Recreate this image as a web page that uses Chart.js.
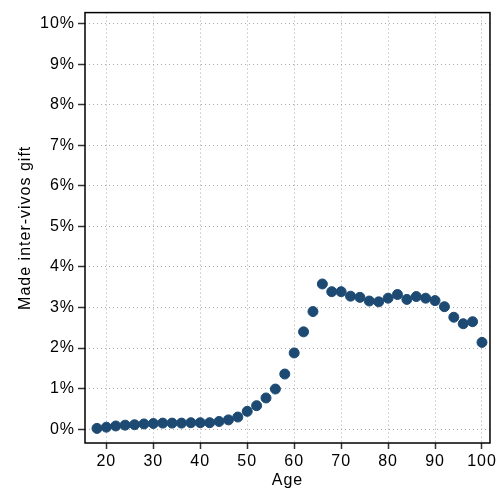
<!DOCTYPE html>
<html>
<head>
<meta charset="utf-8">
<script src="https://cdn.jsdelivr.net/npm/chart.js@4/dist/chart.umd.min.js"></script>
<style>
  html, body { margin: 0; padding: 0; background: #fff; }
  #wrap { width: 500px; height: 493px; }
</style>
</head>
<body>
<div id="wrap"><canvas id="giftChart" width="500" height="493"></canvas></div>
<script>
// ages (every two years)
const ages = [18, 20, 22, 24, 26, 28, 30, 32, 34, 36, 38, 40, 42, 44, 46, 48, 50, 52, 54, 56, 58, 60,
              62, 64, 66, 68, 70, 72, 74, 76, 78, 80, 82, 84, 86, 88, 90, 92, 94, 96, 98, 100];
// share making an inter-vivos gift (%)
const giftShare = [0.02, 0.05, 0.08, 0.10, 0.11, 0.13, 0.14, 0.15, 0.15, 0.15, 0.16, 0.16, 0.16, 0.19, 0.23, 0.30,
                   0.44, 0.58, 0.77, 0.99, 1.36, 1.88, 2.40, 2.90, 3.58, 3.39, 3.39, 3.28, 3.25, 3.16, 3.14, 3.23,
                   3.32, 3.20, 3.27, 3.23, 3.17, 3.02, 2.76, 2.60, 2.65, 2.14];
const xTicks = [20, 30, 40, 50, 60, 70, 80, 90, 100];
const yTicks = [0, 1, 2, 3, 4, 5, 6, 7, 8, 9, 10];

const points = ages.map((a, i) => ({ x: a, y: giftShare[i] }));

// the reference text is a bit spread out
const spacing = {
    id: 'spacing',
    beforeLayout(chart) { chart.ctx.letterSpacing = '1px'; },
    beforeDraw(chart) { chart.ctx.letterSpacing = '1px'; }
};

// draw the black frame round the plot area
const frame = {
    id: 'frame',
    afterDraw(chart) {
        const a = chart.chartArea;
        const c = chart.ctx;
        c.save();
        c.strokeStyle = '#000';
        c.lineWidth = 1.5;
        c.strokeRect(a.left, a.top, a.right - a.left, a.bottom - a.top);
        c.restore();
    }
};

const font = { family: 'Liberation Sans', size: 16 };

new Chart(document.getElementById('giftChart'), {
    type: 'scatter',
    data: {
        datasets: [{
            data: points,
            backgroundColor: '#1d4a73',
            borderColor: '#1d4a73',
            pointRadius: 5,
            pointHoverRadius: 5
        }]
    },
    options: {
        responsive: false,
        animation: false,
        layout: { padding: { left: 0, right: 8, top: 6, bottom: 0 } },
        plugins: { legend: { display: false }, tooltip: { enabled: false } },
        scales: {
            x: {
                type: 'linear',
                min: 15.45,
                max: 101.7,
                afterBuildTicks: s => { s.ticks = xTicks.map(v => ({ value: v })); },
                afterFit: s => { s.height = 50; },
                grid: { color: '#aaa', tickColor: '#333', tickLength: 6, tickWidth: 1.5 },
                border: { display: false, dash: [1, 3] },
                ticks: { color: '#000', padding: 3, maxRotation: 0, font: font },
                title: {
                    display: true,
                    text: 'Age',
                    color: '#000',
                    padding: { top: 0, bottom: 3 },
                    font: font
                }
            },
            y: {
                min: -0.34,
                max: 10.27,
                afterBuildTicks: s => { s.ticks = yTicks.map(v => ({ value: v })); },
                afterFit: s => { s.width = 85; },
                grid: { color: '#aaa', tickColor: '#333', tickLength: 7, tickWidth: 1.5 },
                border: { display: false, dash: [1, 3] },
                ticks: {
                    color: '#000',
                    padding: 3,
                    font: font,
                    callback: v => v + '%'
                },
                title: {
                    display: true,
                    text: 'Made inter-vivos gift',
                    color: '#000',
                    padding: { top: 16, bottom: 0 },
                    font: font
                }
            }
        }
    },
    plugins: [spacing, frame]
});
</script>
</body>
</html>
